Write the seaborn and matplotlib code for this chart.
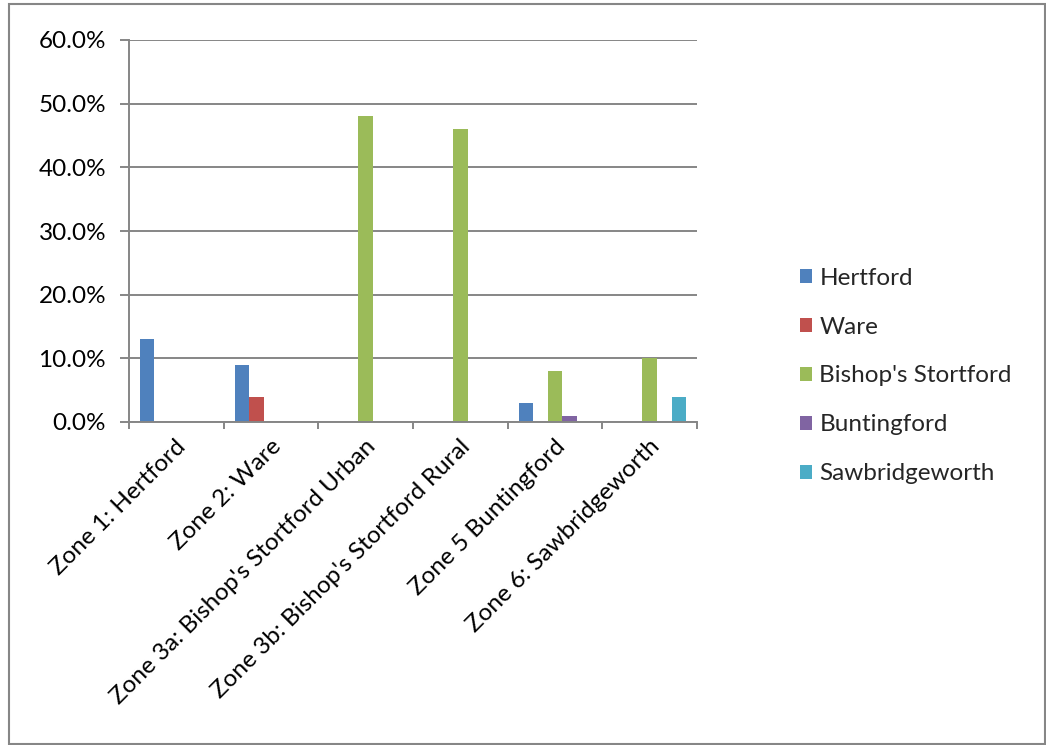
import matplotlib
matplotlib.use("Agg")
import matplotlib.pyplot as plt
from matplotlib.patches import Rectangle
from matplotlib.ticker import PercentFormatter, FixedLocator
from matplotlib.transforms import ScaledTranslation
import seaborn as sns
import pandas as pd

zones = ["Zone 1: Hertford", "Zone 2: Ware", "Zone 3a: Bishop's Stortford Urban",
         "Zone 3b: Bishop's Stortford Rural", "Zone 5 Buntingford", "Zone 6: Sawbridgeworth"]
towns = ["Hertford", "Ware", "Bishop's Stortford", "Buntingford", "Sawbridgeworth"]
hertford = [13, 9, 0, 0, 3, 0]
ware = [0, 4, 0, 0, 0, 0]
bishops_stortford = [0, 0, 48, 46, 8, 10]
buntingford = [0, 0, 0, 0, 1, 0]
sawbridgeworth = [0, 0, 0, 0, 0, 4]
colors = ["#4F81BD", "#C0504D", "#9BBB59", "#8064A2", "#4BACC6"]

series = [hertford, ware, bishops_stortford, buntingford, sawbridgeworth]
rows = []
for town, vals in zip(towns, series):
    for zone, v in zip(zones, vals):
        rows.append({"zone": zone, "town": town, "share": v})
df = pd.DataFrame(rows)

sns.set_theme(style="white")
plt.rcParams["font.family"] = ["Lato", "DejaVu Sans"]
fs = 17.5

fig = plt.figure(figsize=(10.46, 7.45), dpi=100)
ax = fig.add_axes([129 / 1046, 1 - 422 / 745, (697 - 129) / 1046, (422 - 40) / 745])

sns.barplot(data=df, x="zone", y="share", hue="town", order=zones, hue_order=towns,
            palette=colors, width=5 / 6.5, linewidth=0, saturation=1, ax=ax,
            errorbar=None, legend=True)

grid_c = "#868686"
ax.set_ylim(0, 60)
ax.set_xlim(-0.5, len(zones) - 0.5)
ax.yaxis.set_major_locator(FixedLocator([0, 10, 20, 30, 40, 50, 60]))
ax.yaxis.set_major_formatter(PercentFormatter(decimals=1))
ax.grid(axis="y", color=grid_c, linewidth=1.4)
ax.set_axisbelow(True)
for s in ["top", "right"]:
    ax.spines[s].set_visible(False)
for s in ["left", "bottom"]:
    ax.spines[s].set_color(grid_c)
    ax.spines[s].set_linewidth(1.4)

ax.set_xlabel("")
ax.set_ylabel("")
ax.tick_params(axis="y", which="major", left=True, length=6.5, width=1.4, color=grid_c,
               labelsize=fs, pad=10, labelcolor="black")
ax.set_xticks(range(len(zones)))
ax.set_xticklabels(zones, rotation=45, ha="right", va="top", rotation_mode="anchor",
                   fontsize=fs, color="black")
ax.tick_params(axis="x", which="major", length=0, pad=10)
ax.set_xticks([i - 0.5 for i in range(len(zones) + 1)], minor=True)
ax.tick_params(axis="x", which="minor", bottom=True, length=5, width=1.4, color=grid_c)
for lbl in ax.get_xticklabels():
    lbl.set_transform(lbl.get_transform() + ScaledTranslation(-0.01, 0, fig.dpi_scale_trans))

handles, labels = ax.get_legend_handles_labels()
ax.legend(handles, labels, loc="center left", bbox_to_anchor=(800 / 1046, 1 - 376 / 745),
          bbox_transform=fig.transFigure, frameon=False, fontsize=fs, borderpad=0,
          borderaxespad=0, handlelength=0.5, handleheight=0.5, handletextpad=0.3,
          labelspacing=1.15)

fig.patches.append(Rectangle((9 / 1046, 1 / 745), 1036 / 1046, 740 / 745,
                             transform=fig.transFigure, fill=False,
                             edgecolor=grid_c, linewidth=1.5))

fig.savefig("out.png", dpi=100)
